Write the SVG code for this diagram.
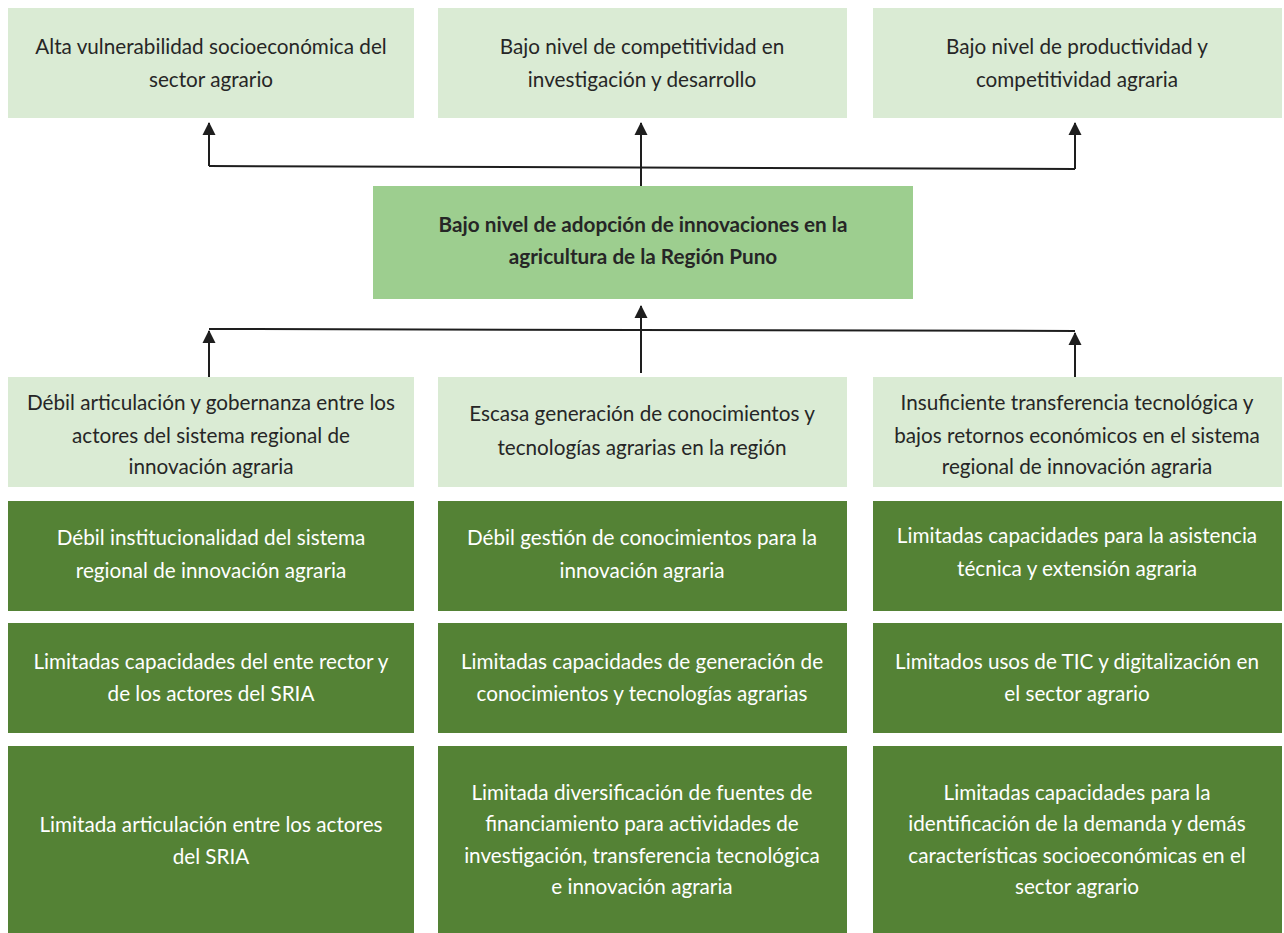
<svg xmlns="http://www.w3.org/2000/svg" width="1284" height="933" viewBox="0 0 1284 933">
<defs>
<style>
.l{fill:#DAEBD4}
.c{fill:#9DCE8F}
.d{fill:#548235}
text{font-family:Lato,"Open Sans","Liberation Sans",sans-serif;font-size:20.7px;text-anchor:middle}
.tl{fill:#262626}
.tc{fill:#262626;font-weight:bold}
.td{fill:#FFFFFF}
.ln{stroke:#1E1E1E;stroke-width:2;fill:none}
</style>
<marker id="ah" markerUnits="userSpaceOnUse" markerWidth="14" markerHeight="14" viewBox="0 0 14 14" refX="12" refY="7" orient="auto">
<path d="M0,0.5 L13,7 L0,13.5 Z" fill="#1E1E1E"/>
</marker>
</defs>
<rect width="1284" height="933" fill="#FFFFFF"/>

<g id="connectors">
<path class="ln" d="M209,166 L1075,169"/>
<path class="ln" d="M209,166 V123" marker-end="url(#ah)"/>
<path class="ln" d="M1075,169 V123" marker-end="url(#ah)"/>
<path class="ln" d="M641,186 V123" marker-end="url(#ah)"/>
<path class="ln" d="M209,329 L1075,331"/>
<path class="ln" d="M209,377 V331" marker-end="url(#ah)"/>
<path class="ln" d="M1075,377 V333" marker-end="url(#ah)"/>
<path class="ln" d="M641,373 V306" marker-end="url(#ah)"/>
</g>

<g id="efecto1"><rect class="l" x="8" y="8" width="406" height="110"/>
<text class="tl" x="211" y="54">Alta vulnerabilidad socioeconómica del</text>
<text class="tl" x="211" y="87">sector agrario</text></g>

<g id="efecto2"><rect class="l" x="438" y="8" width="409" height="110"/>
<text class="tl" x="642" y="54">Bajo nivel de competitividad en</text>
<text class="tl" x="642" y="87">investigación y desarrollo</text></g>

<g id="efecto3"><rect class="l" x="873" y="8" width="409" height="110"/>
<text class="tl" x="1077" y="54">Bajo nivel de productividad y</text>
<text class="tl" x="1077" y="87">competitividad agraria</text></g>

<g id="problema"><rect class="c" x="373" y="186" width="540" height="113"/>
<text class="tc" x="643" y="232">Bajo nivel de adopción de innovaciones en la</text>
<text class="tc" x="643" y="264">agricultura de la Región Puno</text></g>

<g id="causa1"><rect class="l" x="8" y="377" width="406" height="110"/>
<text class="tl" x="211" y="410">Débil articulación y gobernanza entre los</text>
<text class="tl" x="211" y="443">actores del sistema regional de</text>
<text class="tl" x="211" y="474">innovación agraria</text></g>

<g id="causa2"><rect class="l" x="438" y="377" width="409" height="110"/>
<text class="tl" x="642" y="421">Escasa generación de conocimientos y</text>
<text class="tl" x="642" y="455">tecnologías agrarias en la región</text></g>

<g id="causa3"><rect class="l" x="873" y="377" width="409" height="110"/>
<text class="tl" x="1077" y="410">Insuficiente transferencia tecnológica y</text>
<text class="tl" x="1077" y="443">bajos retornos económicos en el sistema</text>
<text class="tl" x="1077" y="474">regional de innovación agraria</text></g>

<g id="sub1a"><rect class="d" x="8" y="501" width="406" height="110"/>
<text class="td" x="211" y="545">Débil institucionalidad del sistema</text>
<text class="td" x="211" y="578">regional de innovación agraria</text></g>

<g id="sub2a"><rect class="d" x="438" y="501" width="409" height="110"/>
<text class="td" x="642" y="545">Débil gestión de conocimientos para la</text>
<text class="td" x="642" y="578">innovación agraria</text></g>

<g id="sub3a"><rect class="d" x="873" y="501" width="409" height="110"/>
<text class="td" x="1077" y="543">Limitadas capacidades para la asistencia</text>
<text class="td" x="1077" y="576">técnica y extensión agraria</text></g>

<g id="sub1b"><rect class="d" x="8" y="623" width="406" height="110"/>
<text class="td" x="211" y="669">Limitadas capacidades del ente rector y</text>
<text class="td" x="211" y="701">de los actores del SRIA</text></g>

<g id="sub2b"><rect class="d" x="438" y="623" width="409" height="110"/>
<text class="td" x="642" y="669">Limitadas capacidades de generación de</text>
<text class="td" x="642" y="701">conocimientos y tecnologías agrarias</text></g>

<g id="sub3b"><rect class="d" x="873" y="623" width="409" height="110"/>
<text class="td" x="1077" y="669">Limitados usos de TIC y digitalización en</text>
<text class="td" x="1077" y="701">el sector agrario</text></g>

<g id="sub1c"><rect class="d" x="8" y="746" width="406" height="187"/>
<text class="td" x="211" y="832">Limitada articulación entre los actores</text>
<text class="td" x="211" y="864">del SRIA</text></g>

<g id="sub2c"><rect class="d" x="438" y="746" width="409" height="187"/>
<text class="td" x="642" y="800">Limitada diversificación de fuentes de</text>
<text class="td" x="642" y="831">financiamiento para actividades de</text>
<text class="td" x="642" y="863">investigación, transferencia tecnológica</text>
<text class="td" x="642" y="894">e innovación agraria</text></g>

<g id="sub3c"><rect class="d" x="873" y="746" width="409" height="187"/>
<text class="td" x="1077" y="800">Limitadas capacidades para la</text>
<text class="td" x="1077" y="831">identificación de la demanda y demás</text>
<text class="td" x="1077" y="863">características socioeconómicas en el</text>
<text class="td" x="1077" y="894">sector agrario</text></g>
</svg>
